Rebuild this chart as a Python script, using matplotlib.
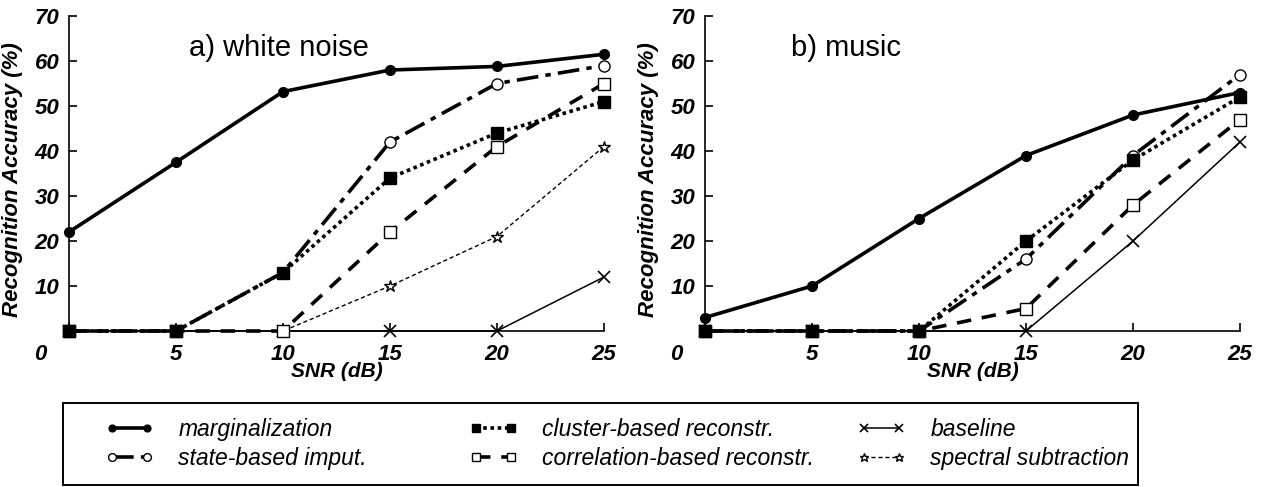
import matplotlib
matplotlib.use('Agg')
import matplotlib.pyplot as plt
import matplotlib.transforms as mtransforms
from matplotlib.patches import Rectangle

snr = [0, 5, 10, 15, 20, 25]
yticks = [10, 20, 30, 40, 50, 60, 70]

# a) white noise
wn_marg = [22, 37.5, 53.2, 58, 58.8, 61.5]
wn_state = [0, 0, 13, 42, 55, 59]
wn_cluster = [0, 0, 13, 34, 44, 51]
wn_corr = [0, 0, 0, 22, 41, 55]
wn_base = [0, 0, 0, 0, 0, 12]
wn_spec = [0, 0, 0, 10, 21, 41]

# b) music
mu_marg = [3, 10, 25, 39, 48, 53]
mu_state = [0, 0, 0, 16, 39, 57]
mu_cluster = [0, 0, 0, 20, 38, 52]
mu_corr = [0, 0, 0, 5, 28, 47]
mu_base = [0, 0, 0, 0, 20, 42]

labels = ['marginalization', 'state-based imput.', 'cluster-based reconstr.',
          'correlation-based reconstr.', 'baseline', 'spectral subtraction']

plt.rcParams['font.family'] = ['Liberation Sans', 'DejaVu Sans']

styles = {
    'marg': dict(color='k', ls='-', lw=2.6, marker='o', ms=7, mfc='k'),
    'state': dict(color='k', ls=(0, (6, 2, 1.5, 2)), lw=2.6, marker='o', ms=8, mfc='white'),
    'cluster': dict(color='k', ls=(0, (1, 1)), lw=2.6, marker='s', ms=8.5, mfc='k'),
    'corr': dict(color='k', ls=(0, (4, 3)), lw=2.6, marker='s', ms=8.5, mfc='white'),
    'base': dict(color='k', ls='-', lw=1.1, marker='x', ms=8, mew=1.2),
    'spec': dict(color='k', ls=(0, (3, 2)), lw=1.0, marker='*', ms=9, mfc='white', mew=1.0),
}

fig = plt.figure(figsize=(12.68, 4.87), dpi=100)
ax1 = fig.add_axes([0.0544, 0.3203, 0.4219, 0.6468])
ax2 = fig.add_axes([0.556, 0.3203, 0.4219, 0.6468])


def style_axes(ax, title, tx, ty):
    ax.set_xlim(0, 25)
    ax.set_ylim(0, 70)
    ax.spines['top'].set_visible(False)
    ax.spines['right'].set_visible(False)
    ax.spines['left'].set_linewidth(1.2)
    ax.spines['bottom'].set_linewidth(1.2)
    ax.set_xticks(snr)
    ax.set_yticks(yticks)
    ax.tick_params(direction='in', length=6, width=1.2, pad=7)
    ax.tick_params(axis='x', pad=9)
    for lab in ax.get_xticklabels() + ax.get_yticklabels():
        lab.set_fontsize(16)
        lab.set_fontweight('bold')
        lab.set_fontstyle('italic')
    first = ax.get_xticklabels()[0]
    first.set_transform(first.get_transform() +
                        mtransforms.ScaledTranslation(-0.29, 0, fig.dpi_scale_trans))
    ax.set_xlabel('SNR (dB)', fontsize=15, fontweight='bold', fontstyle='italic')
    ax.xaxis.set_label_coords(0.50, -0.098)
    ax.set_ylabel('Recognition Accuracy (%)', fontsize=16, fontweight='bold',
                  fontstyle='italic')
    ax.yaxis.set_label_coords(-0.086, 0.48)
    ax.text(tx, ty, title, transform=ax.transAxes, fontsize=21, va='center')


lines = []
lines.append(ax1.plot(snr, wn_marg, clip_on=False, zorder=6, **styles['marg'])[0])
lines.append(ax1.plot(snr, wn_state, clip_on=False, zorder=5, **styles['state'])[0])
lines.append(ax1.plot(snr, wn_cluster, clip_on=False, zorder=5, **styles['cluster'])[0])
lines.append(ax1.plot(snr, wn_corr, clip_on=False, zorder=4, **styles['corr'])[0])
lines.append(ax1.plot(snr, wn_base, clip_on=False, zorder=3, **styles['base'])[0])
lines.append(ax1.plot(snr, wn_spec, clip_on=False, zorder=3, **styles['spec'])[0])

ax2.plot(snr, mu_marg, clip_on=False, zorder=6, **styles['marg'])
ax2.plot(snr, mu_state, clip_on=False, zorder=5, **styles['state'])
ax2.plot(snr, mu_cluster, clip_on=False, zorder=5, **styles['cluster'])
ax2.plot(snr, mu_corr, clip_on=False, zorder=4, **styles['corr'])
ax2.plot(snr, mu_base, clip_on=False, zorder=3, **styles['base'])

style_axes(ax1, 'a) white noise', 0.225, 0.90)
style_axes(ax2, 'b) music', 0.16, 0.90)

# legend: three columns of two entries inside one framed box
col_x = [105 / 1268, 469 / 1268, 857 / 1268]
for i, x in enumerate(col_x):
    leg = fig.legend(lines[2 * i:2 * i + 2], labels[2 * i:2 * i + 2],
                     loc='center left', bbox_to_anchor=(x, 0.0883),
                     prop={'style': 'italic', 'size': 16.5},
                     numpoints=2, handlelength=2.15, handletextpad=1.05,
                     labelspacing=0.3, borderpad=0, borderaxespad=0,
                     frameon=False, markerscale=0.7)
fig.add_artist(Rectangle((63 / 1268, 2 / 487), 1075 / 1268, 82 / 487,
                         transform=fig.transFigure, fill=False,
                         edgecolor='k', linewidth=1.4))

fig.savefig('out.png', dpi=100)
